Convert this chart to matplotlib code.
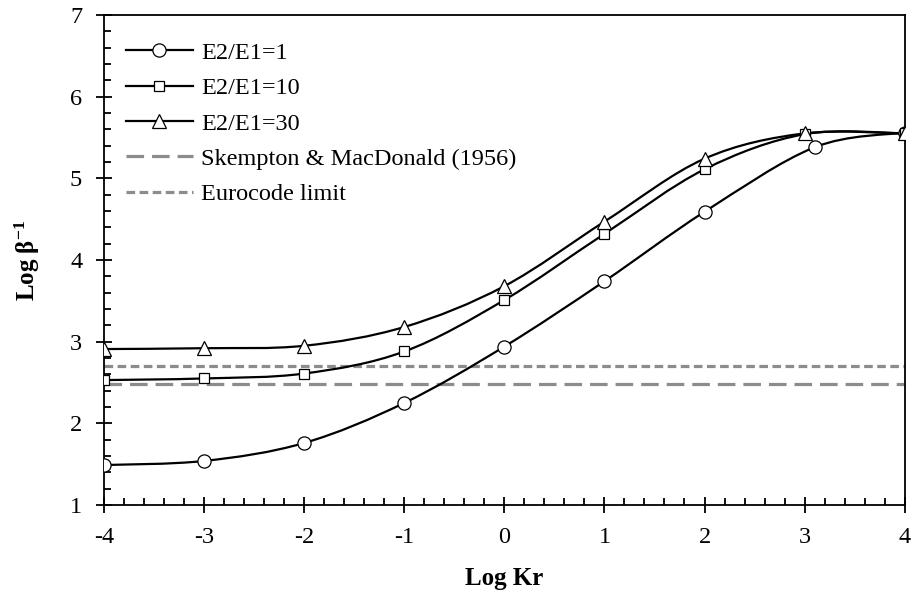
import numpy as np
import matplotlib
matplotlib.use("Agg")
import matplotlib.pyplot as plt
from matplotlib.path import Path
from matplotlib.patches import PathPatch
from matplotlib.ticker import MultipleLocator

plt.rcParams['font.family'] = ['Liberation Serif', 'DejaVu Serif']
plt.rcParams['mathtext.fontset'] = 'custom'
plt.rcParams['mathtext.rm'] = 'Liberation Serif'
plt.rcParams['mathtext.bf'] = 'Liberation Serif:bold'

# Data
x_r1 = [-4, -3, -2, -1, 0, 1, 2, 3.1, 4]
y_r1 = [1.49, 1.54, 1.76, 2.25, 2.94, 3.74, 4.59, 5.38, 5.56]
x_r10 = [-4, -3, -2, -1, 0, 1, 2, 3, 4]
y_r10 = [2.53, 2.55, 2.61, 2.88, 3.51, 4.32, 5.11, 5.54, 5.55]
x_r30 = [-4, -3, -2, -1, 0, 1, 2, 3, 4]
y_r30 = [2.91, 2.92, 2.95, 3.18, 3.68, 4.47, 5.24, 5.55, 5.55]
skempton = 2.477
eurocode = 2.699
labels = ['E2/E1=1', 'E2/E1=10', 'E2/E1=30',
          'Skempton & MacDonald (1956)', 'Eurocode limit']

FS = 17.5

fig = plt.figure(figsize=(9.14, 5.97), dpi=100)
ax = fig.add_axes([0.1138, 0.154, 0.876, 0.821])


def smooth_path(xs, ys):
    pts = np.column_stack([xs, ys]).astype(float)
    n = len(pts)
    verts = [pts[0]]
    codes = [Path.MOVETO]
    for i in range(n - 1):
        p0 = pts[i - 1] if i > 0 else pts[i]
        p1 = pts[i]
        p2 = pts[i + 1]
        p3 = pts[i + 2] if i + 2 < n else pts[i + 1]
        c1 = p1 + (p2 - p0) / 6.0
        c2 = p2 - (p3 - p1) / 6.0
        verts += [c1, c2, p2]
        codes += [Path.CURVE4] * 3
    return Path(verts, codes)


series = [(x_r1, y_r1, 'o', 9.5), (x_r10, y_r10, 's', 7.5), (x_r30, y_r30, '^', 9.5)]
for (xs, ys, m, ms), lab in zip(series, labels[:3]):
    ax.add_patch(PathPatch(smooth_path(xs, ys), facecolor='none',
                           edgecolor='black', lw=1.6, zorder=3))
    ax.plot(xs, ys, linestyle='none', marker=m, ms=ms, mfc='white',
            mec='black', mew=0.9, zorder=4)
    ax.plot([], [], color='black', lw=1.6, marker=m, ms=ms, mfc='white',
            mec='black', mew=0.9, label=lab)

ax.axhline(skempton, color='#8c8c8c', lw=2.3, ls=(0, (5.5, 2.5)),
           label=labels[3], zorder=2)
ax.axhline(eurocode, color='#8c8c8c', lw=2.3, ls=(0, (2.7, 1.4)),
           label=labels[4], zorder=2)

ax.set_xlim(-4, 4)
ax.set_ylim(1, 7)
ax.xaxis.set_major_locator(MultipleLocator(1))
ax.xaxis.set_minor_locator(MultipleLocator(0.2))
ax.yaxis.set_major_locator(MultipleLocator(1))
ax.yaxis.set_minor_locator(MultipleLocator(0.2))
ax.tick_params(which='major', direction='inout', length=11.5, width=1.3,
               labelsize=FS, top=False, right=False)
ax.tick_params(which='minor', direction='in', length=5, width=1.3,
               top=False, right=False)
ax.tick_params(axis='x', which='major', pad=10)
ax.tick_params(axis='y', which='major', pad=10)
for s in ax.spines.values():
    s.set_linewidth(1.3)

ax.set_xticklabels([str(int(v)) for v in ax.get_xticks()])
ax.set_xlabel('Log Kr', fontsize=18, fontweight='bold', labelpad=14)
ax.set_ylabel(r'Log $\mathbf{\beta^{-1}}$', fontsize=18, fontweight='bold',
              labelpad=20)

ax.legend(loc='upper left', frameon=False, fontsize=FS, handlelength=2.75,
          handletextpad=0.35, labelspacing=0.55, borderaxespad=0.3,
          bbox_to_anchor=(0.006, 0.98))

fig.savefig('out.png', dpi=100)
